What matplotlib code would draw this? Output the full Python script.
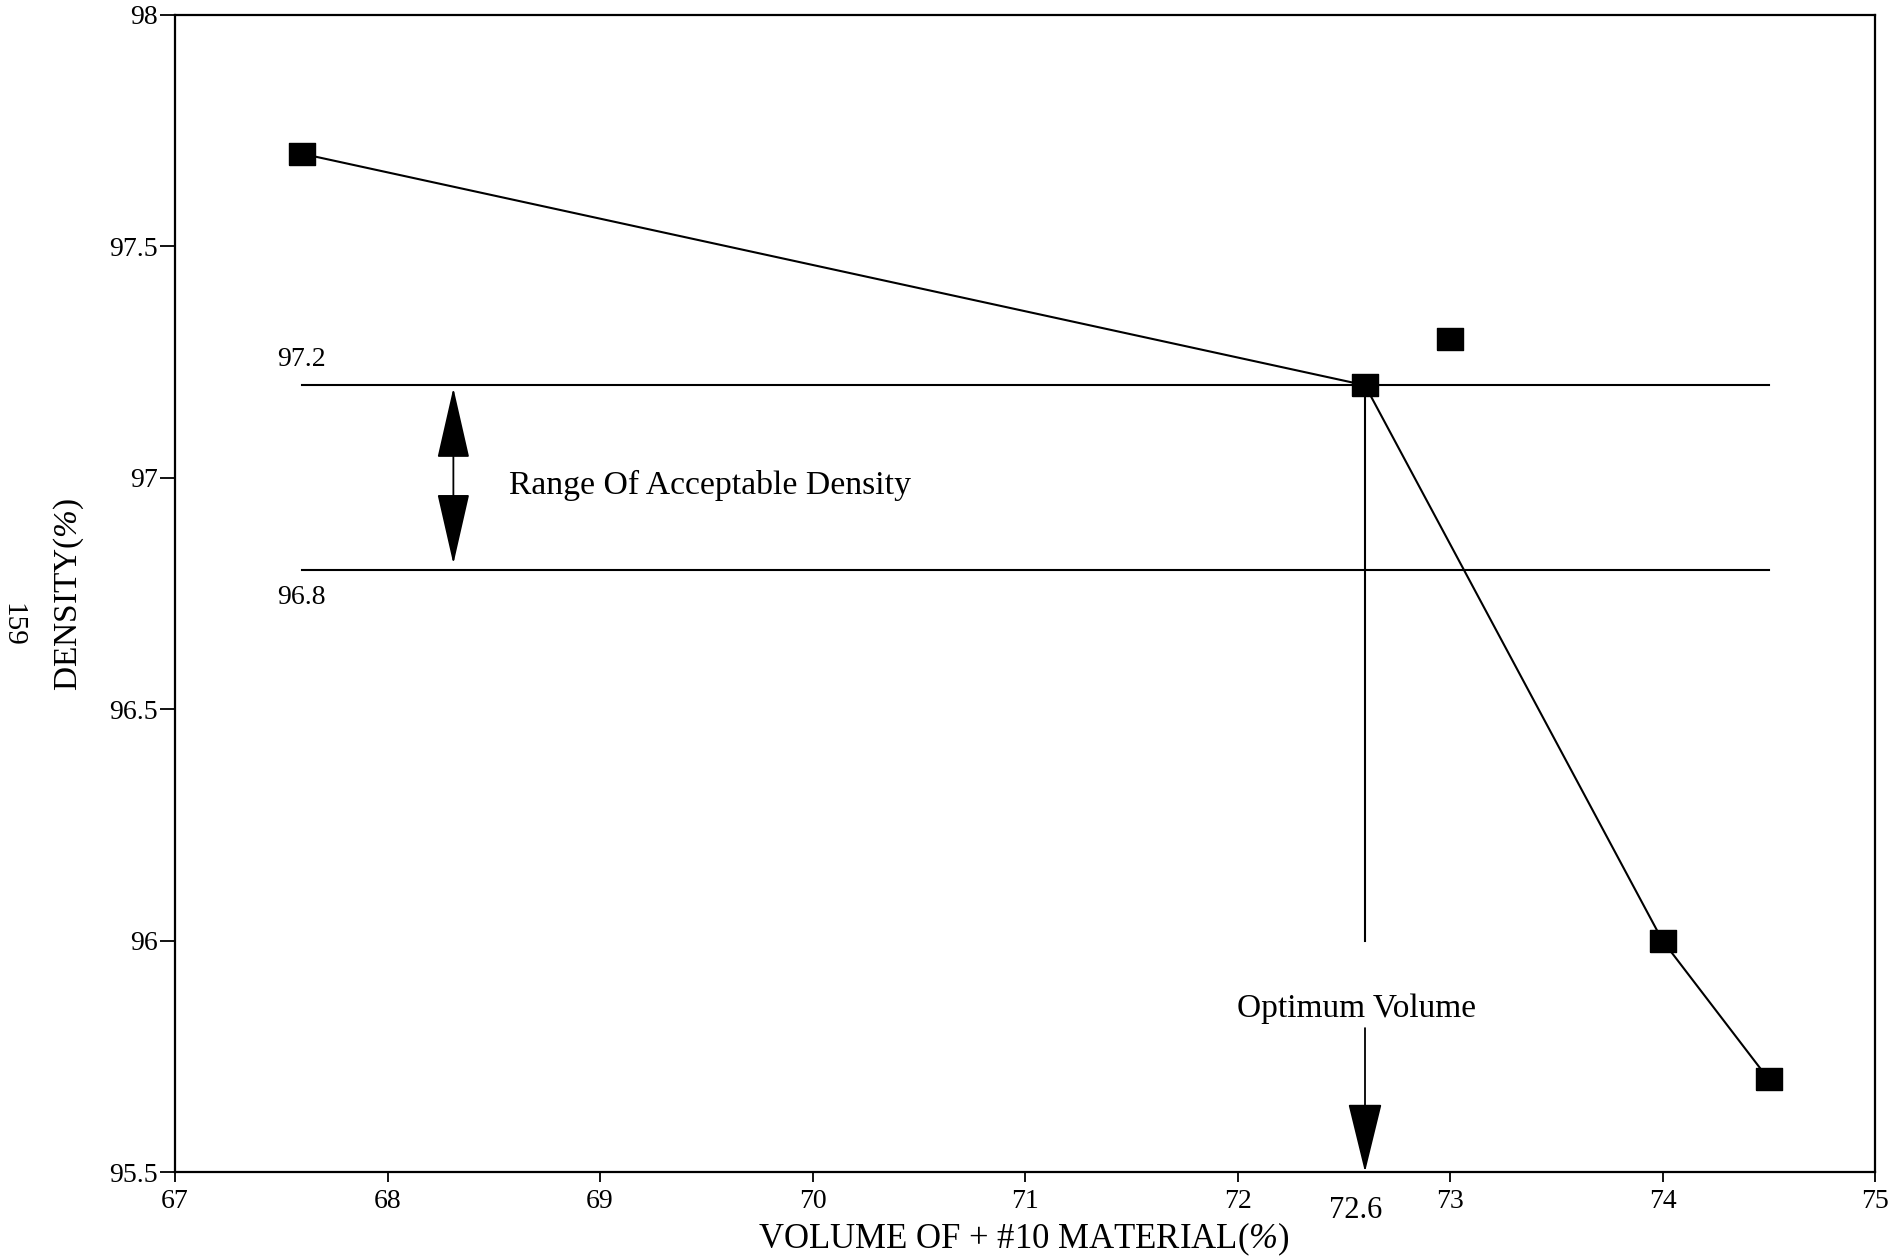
import matplotlib
matplotlib.use("Agg")
import matplotlib.pyplot as plt
from matplotlib.patches import FancyArrowPatch, ArrowStyle
from matplotlib.transforms import blended_transform_factory

plt.rcParams["font.family"] = ["Liberation Serif", "DejaVu Serif"]
# Percent signs in the axis titles are set in italic
plt.rcParams["mathtext.fontset"] = "custom"
plt.rcParams["mathtext.rm"] = "Liberation Serif:italic"
plt.rcParams["mathtext.it"] = "Liberation Serif:italic"

# Density measured against volume of +#10 material
curve_volume = [67.6, 72.6, 74.0, 74.5]
curve_density = [97.7, 97.2, 96.0, 95.7]
extra_volume = [73.0]
extra_density = [97.3]

# Acceptance band and optimum
upper_limit = 97.2
lower_limit = 96.8
band_start = 67.6
band_end = 74.5
optimum_volume = 72.6
optimum_drop_to = 96.0

x_ticks = [67, 68, 69, 70, 71, 72, 73, 74, 75]
x_tick_labels = ["67", "68", "69", "70", "71", "72", "73", "74", "75"]
y_ticks = [95.5, 96.0, 96.5, 97.0, 97.5, 98.0]
y_tick_labels = ["95.5", "96", "96.5", "97", "97.5", "98"]

W, H = 1901, 1259
fig = plt.figure(figsize=(W / 100, H / 100), dpi=100)
ax = fig.add_axes([175 / W, 1 - 1172 / H, 1700 / W, 1157 / H])
ax.set_xlim(67, 75)
ax.set_ylim(95.5, 98)

for s in ax.spines.values():
    s.set_linewidth(1.6)
    s.set_color("black")

ax.set_xticks(x_ticks)
ax.set_xticklabels(x_tick_labels)
ax.set_yticks(y_ticks)
ax.set_yticklabels(y_tick_labels)
ax.tick_params(axis="x", direction="out", length=7, width=1.3, pad=5, labelsize=20)
ax.tick_params(axis="y", direction="out", length=11, width=1.3, pad=1.5, labelsize=20)

# Acceptance band lines
ax.plot([band_start, band_end], [upper_limit, upper_limit], color="black", lw=1.5)
ax.plot([band_start, band_end], [lower_limit, lower_limit], color="black", lw=1.5)
ax.text(67.48, 97.255, "97.2", fontsize=20, ha="left", va="center")
ax.text(67.48, 96.742, "96.8", fontsize=20, ha="left", va="center")

# Double-headed arrow marking the acceptable range
band_arrow = FancyArrowPatch(
    (68.31, upper_limit - 0.006), (68.31, lower_limit + 0.014),
    arrowstyle=ArrowStyle("<|-|>", head_length=46, head_width=10.5),
    mutation_scale=1, color="black", lw=1.3, shrinkA=0, shrinkB=0)
ax.add_patch(band_arrow)
ax.text(68.57, 96.984, "Range Of Acceptable Density", fontsize=24.3,
        ha="left", va="center")

# Optimum volume drop line and arrow
ax.plot([optimum_volume, optimum_volume], [upper_limit, optimum_drop_to],
        color="black", lw=1.5)
ax.text(72.56, 95.852, "Optimum Volume", fontsize=24, ha="center", va="center")
opt_arrow = FancyArrowPatch(
    (optimum_volume, 95.811), (optimum_volume, 95.5),
    arrowstyle=ArrowStyle("-|>", head_length=45, head_width=11),
    mutation_scale=1, color="black", lw=1.3, shrinkA=0, shrinkB=0)
ax.add_patch(opt_arrow)
ax.annotate("72.6", xy=(optimum_volume, 0),
            xycoords=blended_transform_factory(ax.transData, ax.transAxes),
            xytext=(-7, -28), textcoords="offset points",
            fontsize=22, ha="center", va="center", annotation_clip=False)

# Data curve and points
rect = [(-1.18, -1), (1.18, -1), (1.18, 1), (-1.18, 1), (-1.18, -1)]
ax.plot(curve_volume, curve_density, color="black", lw=1.5, zorder=3)
ax.plot(curve_volume, curve_density, linestyle="none", marker=rect,
        markersize=18.7, color="black", zorder=4)
ax.plot(extra_volume, extra_density, linestyle="none", marker=rect,
        markersize=18.7, color="black", zorder=4)

# Axis titles
fig.text(1024 / W, 1 - 1239 / H, r"VOLUME OF + #10 MATERIAL($\%$)",
         fontsize=25, ha="center", va="center")
fig.text(69 / W, 1 - 594 / H, r"DENSITY($\%$)", fontsize=24,
         rotation=90, ha="center", va="center")

# Page number
fig.text(12 / W, 1 - 625 / H, "159", fontsize=21, rotation=-90,
         ha="center", va="center")

fig.savefig("out.png", dpi=100)
